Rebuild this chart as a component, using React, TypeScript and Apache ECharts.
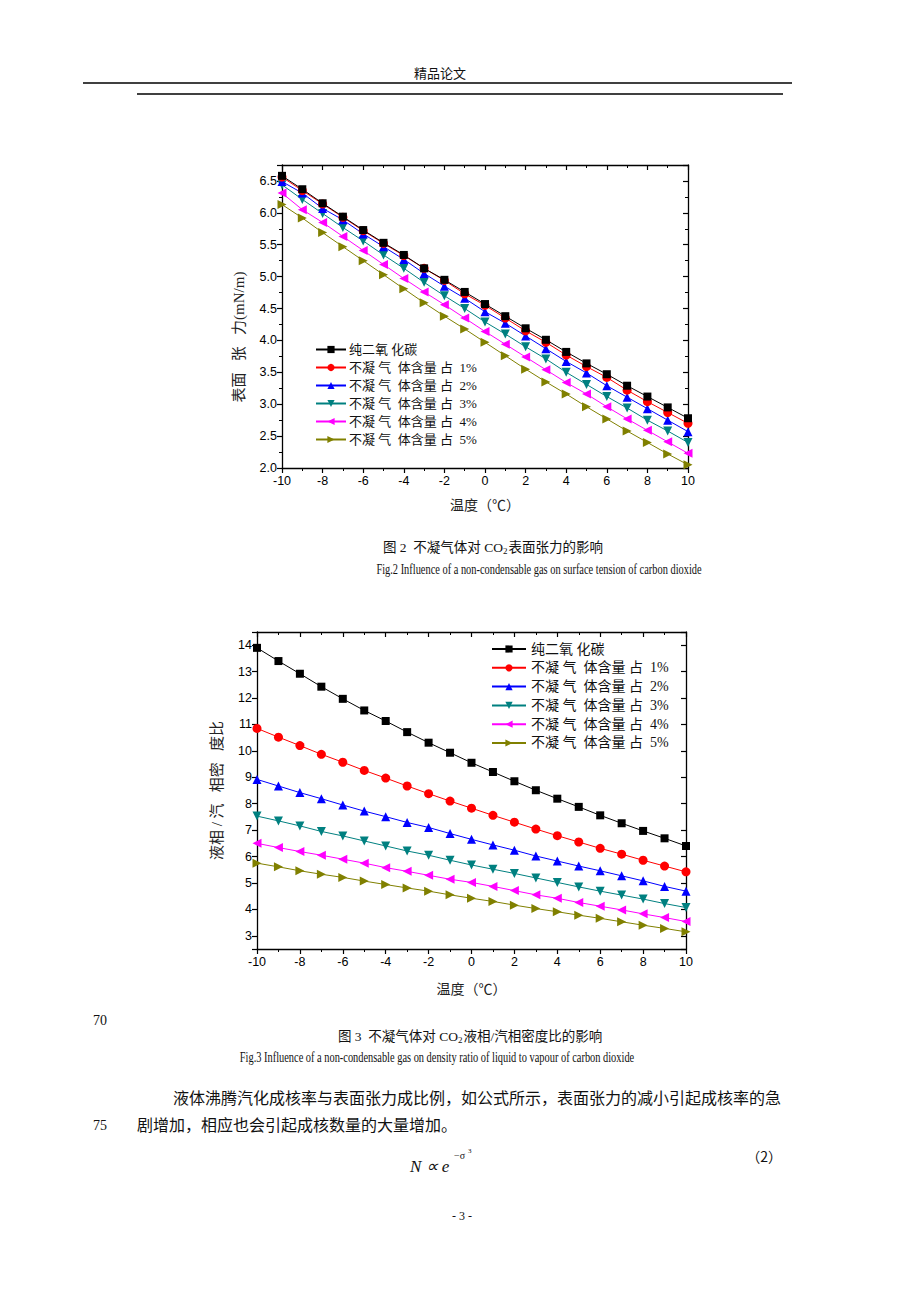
import React, { useEffect, useRef } from "react";
import * as echarts from "echarts";

const temps = [-10, -9, -8, -7, -6, -5, -4, -3, -2, -1, 0, 1, 2, 3, 4, 5, 6, 7, 8, 9, 10];

const seriesNames = [
  "纯二氧 化碳",
  "不凝 气  体含量 占  1%",
  "不凝 气  体含量 占  2%",
  "不凝 气  体含量 占  3%",
  "不凝 气  体含量 占  4%",
  "不凝 气  体含量 占  5%",
];

// Fig.2 surface tension (mN/m)
const tension0 = [6.58, 6.37, 6.15, 5.94, 5.73, 5.53, 5.34, 5.13, 4.95, 4.76, 4.57, 4.38, 4.19, 4.01, 3.82, 3.64, 3.47, 3.29, 3.12, 2.95, 2.78];
const tension1 = [6.56, 6.35, 6.14, 5.93, 5.72, 5.52, 5.33, 5.13, 4.94, 4.73, 4.55, 4.35, 4.15, 3.97, 3.77, 3.59, 3.42, 3.22, 3.04, 2.87, 2.70];
const tension2 = [6.49, 6.31, 6.07, 5.89, 5.67, 5.47, 5.27, 5.05, 4.85, 4.66, 4.45, 4.27, 4.07, 3.87, 3.67, 3.49, 3.29, 3.11, 2.93, 2.75, 2.57];
const tension3 = [6.44, 6.21, 5.99, 5.77, 5.56, 5.34, 5.13, 4.91, 4.70, 4.50, 4.29, 4.10, 3.90, 3.71, 3.50, 3.31, 3.12, 2.94, 2.75, 2.58, 2.40];
const tension4 = [6.31, 6.05, 5.85, 5.63, 5.41, 5.19, 4.97, 4.76, 4.56, 4.35, 4.14, 3.94, 3.74, 3.54, 3.34, 3.16, 2.96, 2.77, 2.59, 2.41, 2.23];
const tension5 = [6.13, 5.92, 5.69, 5.47, 5.25, 5.03, 4.81, 4.59, 4.38, 4.18, 3.97, 3.76, 3.55, 3.35, 3.16, 2.96, 2.77, 2.58, 2.40, 2.22, 2.05];

// Fig.3 density ratio liquid / vapour
const ratio0 = [13.90, 13.40, 12.92, 12.43, 11.97, 11.53, 11.13, 10.71, 10.31, 9.93, 9.55, 9.20, 8.85, 8.51, 8.19, 7.88, 7.56, 7.26, 6.97, 6.69, 6.40];
const ratio1 = [10.85, 10.52, 10.20, 9.87, 9.57, 9.26, 8.97, 8.67, 8.38, 8.10, 7.83, 7.56, 7.30, 7.04, 6.79, 6.55, 6.31, 6.09, 5.86, 5.64, 5.42];
const ratio2 = [8.92, 8.67, 8.42, 8.19, 7.95, 7.72, 7.51, 7.29, 7.10, 6.87, 6.65, 6.44, 6.24, 6.02, 5.83, 5.64, 5.46, 5.27, 5.08, 4.87, 4.69];
const ratio3 = [7.53, 7.35, 7.16, 6.95, 6.78, 6.59, 6.40, 6.21, 6.05, 5.86, 5.68, 5.52, 5.36, 5.19, 5.02, 4.85, 4.69, 4.54, 4.39, 4.22, 4.07];
const ratio4 = [6.50, 6.34, 6.19, 6.05, 5.90, 5.75, 5.58, 5.44, 5.29, 5.14, 5.02, 4.87, 4.71, 4.55, 4.42, 4.26, 4.12, 3.98, 3.83, 3.69, 3.54];
const ratio5 = [5.75, 5.61, 5.46, 5.33, 5.21, 5.07, 4.94, 4.81, 4.69, 4.55, 4.42, 4.30, 4.16, 4.03, 3.91, 3.78, 3.66, 3.53, 3.40, 3.28, 3.15];

const tensionSets = [tension0, tension1, tension2, tension3, tension4, tension5];
const ratioSets = [ratio0, ratio1, ratio2, ratio3, ratio4, ratio5];

const colors = ["#000000", "#ff0000", "#0000ff", "#008080", "#ff00ff", "#808000"];
const symbols = ["rect", "circle", "triangle", "triangle", "triangle", "triangle"];
const rotations = [0, 0, 0, 180, 90, -90];

const tickFont = "'Liberation Sans', Arial, sans-serif";
const cjkSerif = "'Liberation Serif', 'Noto Sans CJK SC', serif";

function buildSeries(sets: number[][], xIdx: number, yIdx: number) {
  return sets.map((vals, i) => ({
    name: seriesNames[i],
    type: "line",
    xAxisIndex: xIdx,
    yAxisIndex: yIdx,
    data: temps.map((t, k) => [t, vals[k]]),
    symbol: symbols[i],
    symbolRotate: rotations[i],
    symbolSize: i === 0 ? 8 : 9,
    showAllSymbol: true,
    lineStyle: { color: colors[i], width: 1 },
    itemStyle: { color: colors[i] },
    z: 10 - i,
  }));
}

function xAxes(gridIndex: number, nameGap: number) {
  const common = {
    type: "value",
    gridIndex,
    min: -10,
    max: 10,
    interval: 2,
    splitLine: { show: false },
    axisLine: { onZero: false, lineStyle: { color: "#000", width: 1.3 } },
  };
  return [
    {
      ...common,
      position: "bottom",
      axisTick: { show: true, length: 5, lineStyle: { color: "#000", width: 1.2 } },
      minorTick: { show: true, splitNumber: 2, length: 3, lineStyle: { color: "#000", width: 1 } },
      axisLabel: { color: "#000", fontSize: 12.5, fontFamily: tickFont, margin: 6 },
      name: "温度（℃）",
      nameLocation: "middle",
      nameGap,
      nameTextStyle: { color: "#222", fontSize: 14, fontFamily: cjkSerif },
    },
    {
      ...common,
      position: "top",
      axisTick: { show: true, inside: true, length: 5, lineStyle: { color: "#000", width: 1.2 } },
      minorTick: { show: true, splitNumber: 2, length: 3, lineStyle: { color: "#000", width: 1 } },
      axisLabel: { show: false },
    },
  ];
}

function yAxes(gridIndex: number, min: number, max: number, interval: number | undefined, splitNumber: number, minor: boolean, decimals: number, name: string, nameGap: number) {
  const common: any = {
    type: "value",
    gridIndex,
    min,
    max,
    splitNumber,
    splitLine: { show: false },
    axisLine: { onZero: false, lineStyle: { color: "#000", width: 1.3 } },
  };
  if (interval !== undefined) common.interval = interval;
  const step = decimals > 0 ? 0.5 : 1;
  const fmt = (v: number) => {
    const r = Math.round(v / step) * step;
    if (Math.abs(r - v) > 1e-6) return "";
    return v.toFixed(decimals);
  };
  return [
    {
      ...common,
      position: "left",
      axisTick: { show: true, length: 5, lineStyle: { color: "#000", width: 1.2 } },
      minorTick: { show: minor, splitNumber: 2, length: 3, lineStyle: { color: "#000", width: 1 } },
      axisLabel: { color: "#000", fontSize: 12.5, fontFamily: tickFont, margin: 5, formatter: fmt },
      name,
      nameLocation: "middle",
      nameGap,
      nameTextStyle: { color: "#222", fontSize: 15, fontFamily: cjkSerif },
    },
    {
      ...common,
      position: "right",
      axisTick: { show: true, inside: true, length: 5, lineStyle: { color: "#000", width: 1.2 } },
      minorTick: { show: minor, splitNumber: 2, length: 3, lineStyle: { color: "#000", width: 1 } },
      axisLabel: { show: false },
    },
  ];
}

const pageText = (text: string, x: number, y: number, size: number, opts: any = {}) => ({
  type: "text",
  x,
  y,
  silent: true,
  scaleX: opts.scaleX ?? 1,
  rotation: opts.rotation ?? 0,
  style: {
    text,
    fill: opts.fill ?? "#111",
    fontSize: size,
    fontFamily: opts.font ?? cjkSerif,
    fontStyle: opts.italic ? "italic" : "normal",
    align: opts.align ?? "left",
    verticalAlign: "middle",
    rich: {
      sub: { fontSize: 9, fontFamily: "'Liberation Serif', serif", padding: [7, 1, 0, 0], fill: opts.fill ?? "#111" },
    },
  },
});

export default function App() {
  const ref = useRef<HTMLDivElement>(null);
  useEffect(() => {
    if (!ref.current) return;
    const chart = echarts.init(ref.current, null, { renderer: "svg" });
    const option: any = {
      animation: false,
      backgroundColor: "#ffffff",
      grid: [
        { left: 282, top: 165, width: 406, height: 303 },
        { left: 257, top: 632, width: 429, height: 317 },
      ],
      xAxis: [...xAxes(0, 30), ...xAxes(1, 33)],
      yAxis: [
        ...yAxes(0, 2, 6.75, 0.5, 9, true, 1, "", 36),
        ...yAxes(1, 2.5, 14.5, undefined, 12, false, 0, "液相 / 汽   相密   度比", 33),
      ],
      legend: [
        {
          left: 310,
          top: 338,
          orient: "vertical",
          itemWidth: 30,
          itemHeight: 9,
          itemGap: 5,
          data: seriesNames,
          textStyle: { color: "#111", fontSize: 13, fontFamily: cjkSerif, padding: [0, 0, 0, -2] },
        },
        {
          left: 486,
          top: 637,
          orient: "vertical",
          itemWidth: 34,
          itemHeight: 9,
          itemGap: 4.8,
          data: seriesNames,
          textStyle: { color: "#111", fontSize: 14, fontFamily: cjkSerif },
        },
      ],
      series: [...buildSeries(tensionSets, 0, 0), ...buildSeries(ratioSets, 2, 2)],
      graphic: [
        pageText("精品论文", 440, 72, 13, { align: "center", font: "'Noto Sans CJK SC', sans-serif" }),
        { type: "line", silent: true, shape: { x1: 83, y1: 83, x2: 792, y2: 83 }, style: { stroke: "#000", lineWidth: 1.5 } },
        { type: "line", silent: true, shape: { x1: 137, y1: 94, x2: 783, y2: 94 }, style: { stroke: "#000", lineWidth: 1.5 } },
        pageText("表面   张   力(mN/m)", 239, 337, 15, { align: "center", rotation: Math.PI / 2, fill: "#222" }),
        pageText("图 2  不凝气体对 CO{sub|2}表面张力的影响", 383, 547, 13.5),
        pageText("Fig.2 Influence of a non-condensable gas on surface tension of carbon dioxide", 539, 569, 15.5, { align: "center", scaleX: 0.67, font: "'Liberation Serif', serif" }),
        pageText("70", 93, 1020, 14, { font: "'Liberation Serif', serif" }),
        pageText("图 3  不凝气体对 CO{sub|2}液相/汽相密度比的影响", 338, 1036, 13.5),
        pageText("Fig.3 Influence of a non-condensable gas on density ratio of liquid to vapour of carbon dioxide", 437, 1057, 15.5, { align: "center", scaleX: 0.67, font: "'Liberation Serif', serif" }),
        pageText("液体沸腾汽化成核率与表面张力成比例，如公式所示，表面张力的减小引起成核率的急", 173, 1098, 16),
        pageText("75", 93, 1125, 14, { font: "'Liberation Serif', serif" }),
        pageText("剧增加，相应也会引起成核数量的大量增加。", 137, 1125, 16),
        pageText("N ∝ e", 410, 1166, 17, { italic: true, font: "'Liberation Serif', serif" }),
        pageText("−σ", 454, 1155, 10, { font: "'Liberation Serif', serif" }),
        pageText("3", 468, 1151, 7, { font: "'Liberation Serif', serif" }),
        pageText("（2）", 782, 1156, 14, { align: "right", font: "'Noto Sans CJK SC', sans-serif" }),
        pageText("- 3 -", 462, 1216, 12, { align: "center", font: "'Liberation Serif', serif" }),
      ],
    };
    chart.setOption(option);
    return () => chart.dispose();
  }, []);
  return <div ref={ref} style={{ position: "absolute", left: 0, top: 0, width: 920, height: 1300 }} />;
}
